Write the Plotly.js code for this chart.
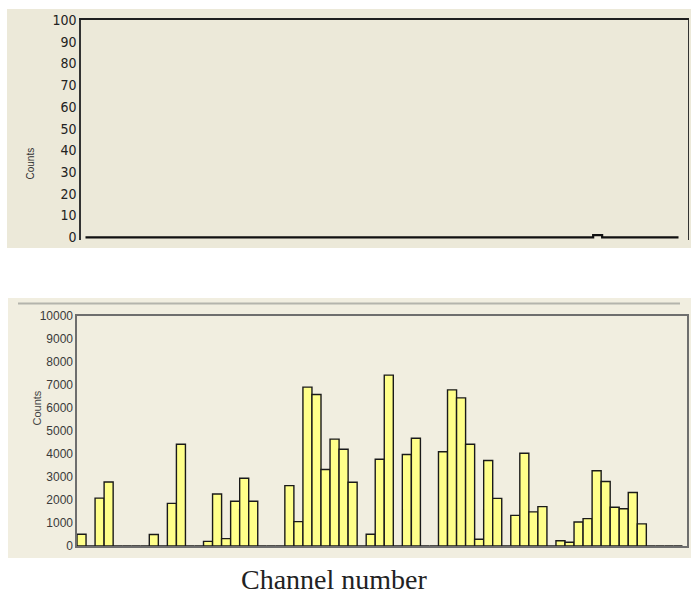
<!DOCTYPE html>
<html>
<head>
<meta charset="utf-8">
<script src="https://cdn.plot.ly/plotly-3.0.1.min.js"></script>
<style>html,body{margin:0;padding:0;background:#fff;}#chart{width:691px;height:594px;}</style>
</head>
<body>
<div id="chart"></div>
<script>
// ---- data ----
const channels = [0,1,2,3,4,5,6,7,8,9,10,11,12,13,14,15,16,17,18,19,20,21,22,23,24,25,26,27,28,29,30,31,32,33,34,35,36,37,38,39,40,41,42,43,44,45,46,47,48,49,50,51,52,53,54,55,56,57,58,59,60,61,62,63,64,65,66];
const topCounts = [0,0,0,0,0,0,0,0,0,0,0,0,0,0,0,0,0,0,0,0,0,0,0,0,0,0,0,0,0,0,0,0,0,0,0,0,0,0,0,0,0,0,0,0,0,0,0,0,0,0,0,0,0,0,0,0,0,1,0,0,0,0,0,0,0,0,0];
const bottomCounts = [510,0,2080,2780,0,0,0,0,500,0,1850,4420,0,0,200,2260,320,1940,2940,1940,0,0,0,2620,1060,6900,6580,3320,4640,4200,2770,0,510,3770,7420,0,3970,4680,0,0,4090,6780,6430,4420,290,3710,2070,0,1330,4030,1480,1710,0,230,160,1040,1190,3270,2800,1680,1620,2320,960,0,0,0,0];
const topTicks = [0,10,20,30,40,50,60,70,80,90,100];
const bottomTicks = [0,1000,2000,3000,4000,5000,6000,7000,8000,9000,10000];
const yTitle = 'Counts';
const xTitle = 'Channel number';

// ---- traces ----
const traces = [
  {
    type: 'scatter', mode: 'lines', x: channels, y: topCounts,
    line: {color: '#111', width: 2.2, shape: 'hvh'},
    xaxis: 'x', yaxis: 'y', hoverinfo: 'skip', showlegend: false
  },
  {
    type: 'bar', x: channels, y: bottomCounts,
    marker: {color: '#FFFF8A', line: {color: '#1a1a1a', width: 1.4}},
    xaxis: 'x2', yaxis: 'y2', hoverinfo: 'skip', showlegend: false
  }
];

const W = 691, H = 594;
const px = v => v / W, py = v => 1 - v / H;

const layout = {
  width: W, height: H,
  margin: {l: 0, r: 0, t: 0, b: 0},
  paper_bgcolor: '#ffffff',
  plot_bgcolor: 'rgba(0,0,0,0)',
  bargap: 0,
  showlegend: false,
  xaxis: {
    domain: [px(81), px(687.5)], range: [-0.5, 67], anchor: 'y',
    side: 'top', showline: true, linecolor: '#1e1e1e', linewidth: 2,
    showgrid: false, zeroline: false, showticklabels: false, ticks: ''
  },
  yaxis: {
    domain: [py(239.5), py(20)], range: [-1, 100], anchor: 'x',
    showline: true, mirror: true, linecolor: '#333', linewidth: 1.6,
    showgrid: false, zeroline: false, ticks: '',
    tickmode: 'array', tickvals: topTicks, ticktext: topTicks.map(String),
    tickfont: {family: '"Liberation Sans Narrow", "DejaVu Sans Condensed", "Liberation Sans", sans-serif', size: 14, color: '#222'}
  },
  xaxis2: {
    domain: [px(77), px(687)], range: [-0.5, 67], anchor: 'y2',
    showline: true, mirror: true, linecolor: '#6e6e6e', linewidth: 1.6,
    showgrid: false, zeroline: false, showticklabels: false, ticks: ''
  },
  yaxis2: {
    domain: [py(546), py(315.7)], range: [0, 10000], anchor: 'x2',
    showline: true, mirror: true, linecolor: '#6e6e6e', linewidth: 1.6,
    showgrid: false, zeroline: false, ticks: '',
    tickmode: 'array', tickvals: bottomTicks, ticktext: bottomTicks.map(String),
    tickfont: {family: '"Liberation Sans", Arial, sans-serif', size: 12, color: '#3a3a3a'}
  },
  shapes: [
    {type: 'rect', xref: 'paper', yref: 'paper', x0: px(7), x1: px(691), y0: py(248), y1: py(9),
     fillcolor: '#ECE9D9', line: {width: 0}, layer: 'below'},
    {type: 'rect', xref: 'paper', yref: 'paper', x0: px(8), x1: px(691), y0: py(558), y1: py(298),
     fillcolor: '#F1EEE0', line: {width: 0}, layer: 'below'},
    {type: 'line', xref: 'paper', yref: 'paper', x0: px(18), x1: px(680), y0: py(303.5), y1: py(303.5),
     line: {color: '#B4B4AC', width: 2}, layer: 'below'}
  ],
  annotations: [
    {text: yTitle, xref: 'paper', yref: 'paper', x: px(22), y: py(145), textangle: -90,
     showarrow: false, font: {family: '"Liberation Sans", Arial, sans-serif', size: 10, color: '#333'}},
    {text: yTitle, xref: 'paper', yref: 'paper', x: px(28), y: py(428), textangle: -90,
     showarrow: false, font: {family: '"Liberation Sans", Arial, sans-serif', size: 11, color: '#444'}},
    {text: xTitle, xref: 'paper', yref: 'paper', x: px(334), y: py(579), xanchor: 'center', yanchor: 'middle',
     showarrow: false, font: {family: '"Liberation Serif", "Times New Roman", serif', size: 28, color: '#222'}}
  ]
};

Plotly.newPlot('chart', traces, layout, {displayModeBar: false, staticPlot: true});
</script>
</body>
</html>
